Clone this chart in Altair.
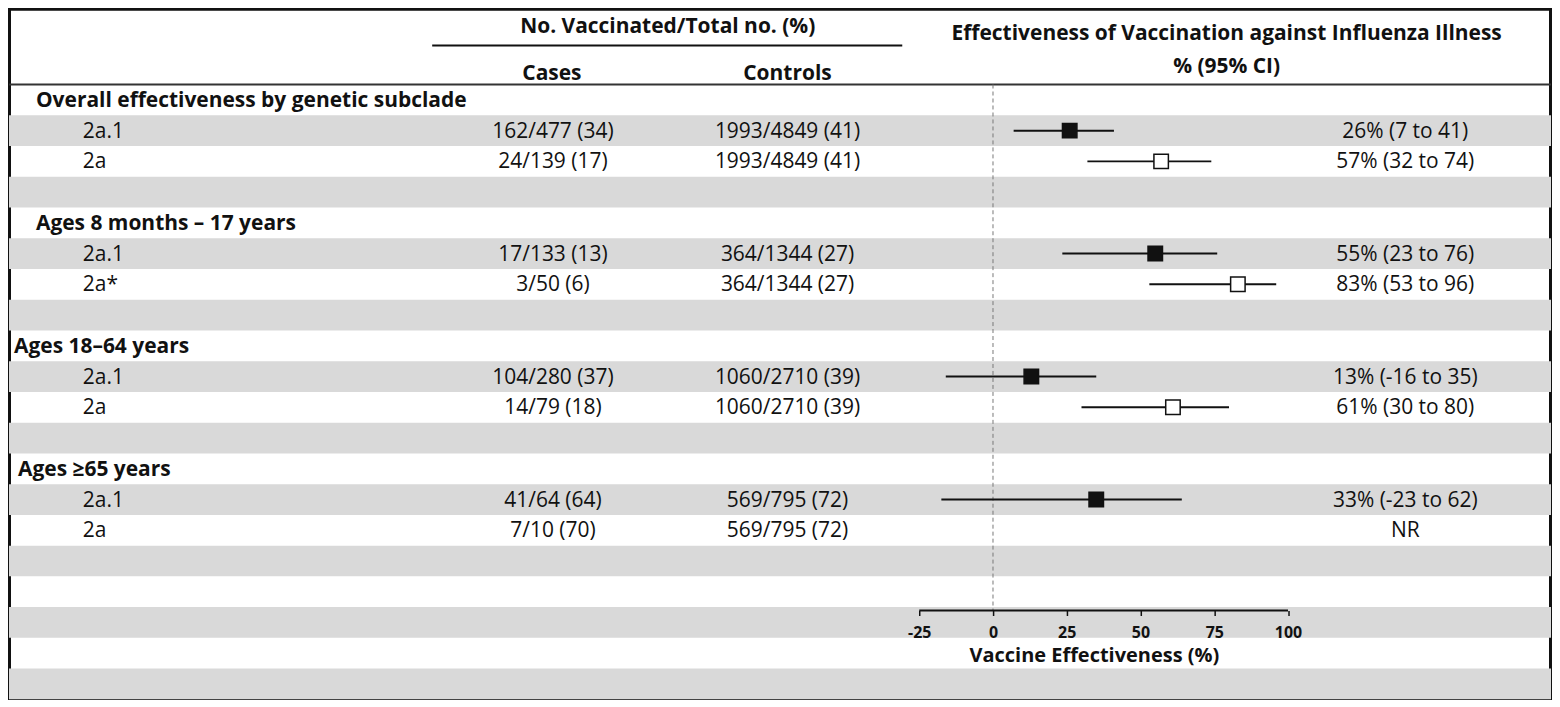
import altair as alt
import pandas as pd

# ---------------- data ----------------
GROUPS = ["Overall effectiveness by genetic subclade",
          "Ages 8 months \u2013 17 years",
          "Ages 18\u201364 years",
          "Ages \u226565 years"]
GROUP_ROWS = [0, 4, 8, 12]

SUB_ROWS = [1, 2, 5, 6, 9, 10, 13, 14]
SUBCLADE = ["2a.1", "2a", "2a.1", "2a*", "2a.1", "2a", "2a.1", "2a"]
CASES = ["162/477 (34)", "24/139 (17)", "17/133 (13)", "3/50 (6)",
         "104/280 (37)", "14/79 (18)", "41/64 (64)", "7/10 (70)"]
CONTROLS = ["1993/4849 (41)", "1993/4849 (41)", "364/1344 (27)", "364/1344 (27)",
            "1060/2710 (39)", "1060/2710 (39)", "569/795 (72)", "569/795 (72)"]
VE_TEXT = ["26% (7 to 41)", "57% (32 to 74)", "55% (23 to 76)", "83% (53 to 96)",
           "13% (-16 to 35)", "61% (30 to 80)", "33% (-23 to 62)", "NR"]
# plotted estimates / CI as drawn in the figure
VE_EST = [26, 57, 55, 83, 13, 61, 35, None]
VE_LO = [7, 32, 23.5, 53, -16, 30, -17.5, None]
VE_HI = [41, 74, 76, 96, 35, 80, 64, None]

TICKS = [-25, 0, 25, 50, 75, 100]
N_ROWS = 20
STRIPE_ROWS = [1, 3, 5, 7, 9, 11, 13, 15, 17, 19]

# ---------------- layout / style ----------------
FONT = "Open Sans"
TXT = "#111111"
GRAY = "#d9d9d9"
FS = 21

W, H = 1545, 692
HEADER_PX = 76
ROW_PX = (H - HEADER_PX) / N_ROWS
HEADER_ROWS = HEADER_PX / ROW_PX

AX_LEFT_PX, AX_RIGHT_PX = 912.0, 1281.5
k = (AX_RIGHT_PX - AX_LEFT_PX) / (TICKS[-1] - TICKS[0])
x_d0 = TICKS[0] - AX_LEFT_PX / k
x_d1 = x_d0 + W / k

AXIS_ROW = 17.11
axis_px = HEADER_PX + AXIS_ROW * ROW_PX
axis_offset = -(H - axis_px)

GROUP_X = {GROUPS[0]: 27, GROUPS[1]: 27, GROUPS[2]: 5, GROUPS[3]: 9}
SUB_X = 74
CASES_X = 545
CONTROLS_X = 780
VE_X = 1399

YSC = alt.Scale(domain=[-HEADER_ROWS, N_ROWS], reverse=True, nice=False, zero=False)
XSC = alt.Scale(domain=[x_d0, x_d1], nice=False, zero=False)
XAX = alt.Axis(values=TICKS, domain=False, grid=False, ticks=True, tickSize=5,
               tickWidth=1.5, tickColor=TXT, labelFont=FONT, labelFontSize=16,
               labelFontWeight="bold", labelColor=TXT, labelPadding=9,
               labelExpr="'' + datum.value", labelFlush=False,
               offset=axis_offset, zindex=1, orient="bottom",
               title="Vaccine Effectiveness (%)", titleFont=FONT, titleFontSize=20,
               titleFontWeight="bold", titleColor=TXT, titleX=1087, titleY=51,
               titleBaseline="alphabetic", titleAlign="center")

stripes = pd.DataFrame({"r0": STRIPE_ROWS, "r1": [r + 1 for r in STRIPE_ROWS]})
sub = pd.DataFrame({"row": SUB_ROWS, "label": SUBCLADE, "cases": CASES,
                    "controls": CONTROLS, "ve": VE_TEXT,
                    "est": VE_EST, "lo": VE_LO, "hi": VE_HI})
sub["mid"] = sub["row"] + 0.5
sub["clade"] = ["2a.1" if s == "2a.1" else "2a" for s in SUBCLADE]
forest = sub.dropna(subset=["est"])
one = pd.DataFrame({"a": [0]})

layers = []

layers.append(alt.Chart(stripes).mark_rect(color=GRAY).encode(
    y=alt.Y("r0:Q", scale=YSC, axis=None), y2="r1:Q",
    x=alt.value(0), x2=alt.value(W)))

# header separator and sub-header line
layers.append(alt.Chart(one).mark_rule(color="#333333", strokeWidth=2).encode(
    y=alt.YDatum(0, scale=YSC, axis=None), x=alt.value(0), x2=alt.value(W)))
layers.append(alt.Chart(one).mark_rule(color=TXT, strokeWidth=2).encode(
    y=alt.value(37), x=alt.value(424), x2=alt.value(895)))

def header(text, x, y):
    return alt.Chart(one).mark_text(text=text, font=FONT, fontSize=FS, fontWeight="bold",
                                    color=TXT, align="center", baseline="alphabetic").encode(
        x=alt.value(x), y=alt.value(y))

layers += [header("No. Vaccinated/Total no. (%)", 660, 24),
           header("Cases", 544, 71),
           header("Controls", 780, 71),
           header("Effectiveness of Vaccination against Influenza Illness", 1220, 31),
           header("% (95% CI)", 1220, 64)]

for g, r in zip(GROUPS, GROUP_ROWS):
    gdf = pd.DataFrame({"mid": [r + 0.5], "label": [g]})
    layers.append(alt.Chart(gdf).mark_text(font=FONT, fontSize=FS, fontWeight="bold",
                                           color=TXT, align="left", baseline="middle", dy=1).encode(
        y=alt.Y("mid:Q", scale=YSC, axis=None), x=alt.value(GROUP_X[g]), text="label:N"))

def col(field, x, align):
    return alt.Chart(sub).mark_text(font=FONT, fontSize=FS, color=TXT, align=align,
                                    baseline="middle", dy=1).encode(
        y=alt.Y("mid:Q", scale=YSC, axis=None), x=alt.value(x), text=f"{field}:N")

layers += [col("label", SUB_X, "left"), col("cases", CASES_X, "center"),
           col("controls", CONTROLS_X, "center"), col("ve", VE_X, "center")]

# zero reference line
layers.append(alt.Chart(one).mark_rule(color="#777777", strokeWidth=1, strokeDash=[4, 3]).encode(
    x=alt.XDatum(0, scale=XSC, axis=XAX),
    y=alt.YDatum(0, scale=YSC, axis=None), y2=alt.Y2Datum(AXIS_ROW)))

# axis baseline
layers.append(alt.Chart(one).mark_rule(color=TXT, strokeWidth=2).encode(
    x=alt.XDatum(TICKS[0], scale=XSC, axis=XAX), x2=alt.X2Datum(TICKS[-1]),
    y=alt.YDatum(AXIS_ROW, scale=YSC, axis=None)))

# CI lines
layers.append(alt.Chart(forest).mark_rule(color=TXT, strokeWidth=2).encode(
    x=alt.X("lo:Q", scale=XSC, axis=XAX), x2="hi:Q",
    y=alt.Y("mid:Q", scale=YSC, axis=None)))

# point estimates
layers.append(alt.Chart(forest).mark_point(shape="square", size=210, filled=True,
                                           stroke=TXT, strokeWidth=1.5, opacity=1).encode(
    x=alt.X("est:Q", scale=XSC, axis=XAX),
    y=alt.Y("mid:Q", scale=YSC, axis=None),
    fill=alt.Fill("clade:N", scale=alt.Scale(domain=["2a.1", "2a"], range=[TXT, "white"]),
                  legend=None)))

chart = alt.layer(*layers).properties(
    width=W, height=H, padding=0, background="white"
).configure_view(stroke=TXT, strokeWidth=4)

chart.save("out.html", embed_options={"renderer": "svg", "actions": False})
